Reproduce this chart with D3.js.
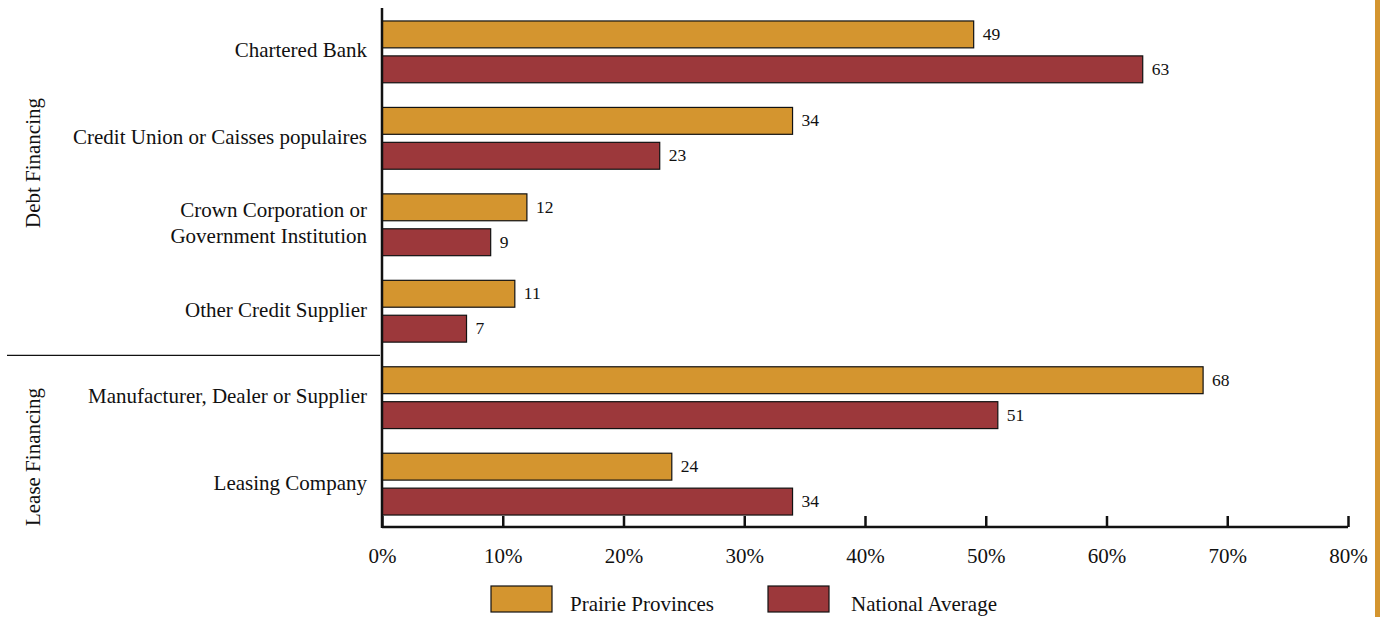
<!DOCTYPE html>
<html lang="en">
<head>
  <meta charset="UTF-8" />
  <title>Sources of Financing</title>
  <script src="https://d3js.org/d3.v7.min.js"></script>
  <style>
    body { margin: 0; background: #fff; }
    svg { display: block; font-family: "Liberation Serif", "Times New Roman", serif; }
    .cat { font-size: 21px; text-anchor: end; dominant-baseline: middle; fill: #111; }
    .val { font-size: 17.5px; dominant-baseline: middle; fill: #111; }
    .tick text { font-size: 21px; fill: #111; font-family: "Liberation Serif", serif; }
    .grp { font-size: 21px; text-anchor: middle; fill: #111; }
    .leg { font-size: 21px; dominant-baseline: middle; fill: #111; }
  </style>
</head>
<body>
  <svg width="1380" height="617"></svg>

  <script>
    const categories = [
      "Chartered Bank",
      "Credit Union or Caisses populaires",
      "Crown Corporation or|Government Institution",
      "Other Credit Supplier",
      "Manufacturer, Dealer or Supplier",
      "Leasing Company"
    ];
    const seriesNames = ["Prairie Provinces", "National Average"];
    const prairie = [49, 34, 12, 11, 68, 24];
    const national = [63, 23, 9, 7, 51, 34];
    const xTicks = [0, 10, 20, 30, 40, 50, 60, 70, 80];
    const groups = [
      { name: "Debt Financing", y: 163 },
      { name: "Lease Financing", y: 457 }
    ];

    const colors = ["#D4952F", "#9C383B"];
    const svg = d3.select("svg");

    const x = d3.scaleLinear().domain([0, 80]).range([382, 1348]);
    const y = d3.scaleBand().domain(categories).range([8, 528])
      .paddingInner(0.285).paddingOuter(0.15);
    const sub = d3.scaleBand().domain(seriesNames).range([0, y.bandwidth()])
      .paddingInner(0.23);

    // orange stripe on the right edge
    svg.append("rect").attr("x", 1375).attr("y", 0)
      .attr("width", 5).attr("height", 617).attr("fill", colors[0]);

    const rows = categories.map((c, i) => ({ c, vals: [prairie[i], national[i]] }));

    const g = svg.append("g").selectAll("g").data(rows).join("g")
      .attr("transform", d => `translate(0,${y(d.c)})`);

    g.selectAll("rect").data(d => d.vals.map((v, j) => ({ v, s: seriesNames[j], j })))
      .join("rect")
      .attr("x", x(0))
      .attr("y", d => sub(d.s))
      .attr("width", d => x(d.v) - x(0))
      .attr("height", sub.bandwidth())
      .attr("fill", d => colors[d.j])
      .attr("stroke", "#111")
      .attr("stroke-width", 1.2);

    g.selectAll("text.val").data(d => d.vals.map((v, j) => ({ v, s: seriesNames[j] })))
      .join("text")
      .attr("class", "val")
      .attr("x", d => x(d.v) + 9)
      .attr("y", d => sub(d.s) + sub.bandwidth() / 2 + 1.5)
      .text(d => d.v);

    // category labels
    g.each(function(d) {
      const lines = d.c.split("|");
      const t = d3.select(this).append("text").attr("class", "cat")
        .attr("x", 367);
      lines.forEach((ln, k) => {
        t.append("tspan").attr("x", 367)
          .attr("y", y.bandwidth() / 2 + 0.5 + (k - (lines.length - 1) / 2) * 26)
          .text(ln);
      });
    });

    // x axis
    const xAxis = svg.append("g").attr("transform", "translate(0,527)")
      .call(d3.axisBottom(x).tickValues(xTicks).tickFormat(d => d + "%").tickSize(-11).tickPadding(21));
    xAxis.attr("font-family", null).attr("font-size", null);
    xAxis.select(".domain").attr("stroke", "#111").attr("stroke-width", 2.5)
      .attr("d", `M${x(0)},0H${x(80)}`);
    xAxis.selectAll(".tick line").attr("stroke", "#111").attr("stroke-width", 2.5);

    // y axis line
    svg.append("line").attr("x1", x(0)).attr("x2", x(0)).attr("y1", 8).attr("y2", 528)
      .attr("stroke", "#111").attr("stroke-width", 2.5);

    // separator between groups
    const sepY = (y(categories[3]) + y.bandwidth() + y(categories[4])) / 2 + 1;
    svg.append("line").attr("x1", 7).attr("x2", 380).attr("y1", sepY).attr("y2", sepY)
      .attr("stroke", "#111").attr("stroke-width", 1.2);

    svg.selectAll("text.grp").data(groups).join("text")
      .attr("class", "grp")
      .attr("transform", d => `translate(40,${d.y}) rotate(-90)`)
      .text(d => d.name);

    // legend
    const legX = [491, 768];
    const leg = svg.append("g").selectAll("g").data(seriesNames).join("g")
      .attr("transform", (d, i) => `translate(${legX[i]},586)`);
    leg.append("rect").attr("width", 61).attr("height", 26)
      .attr("fill", (d, i) => colors[i]).attr("stroke", "#111").attr("stroke-width", 1.2);
    leg.append("text").attr("class", "leg").attr("x", (d, i) => i === 0 ? 79 : 83).attr("y", 20)
      .text(d => d);
  </script>
</body>
</html>
